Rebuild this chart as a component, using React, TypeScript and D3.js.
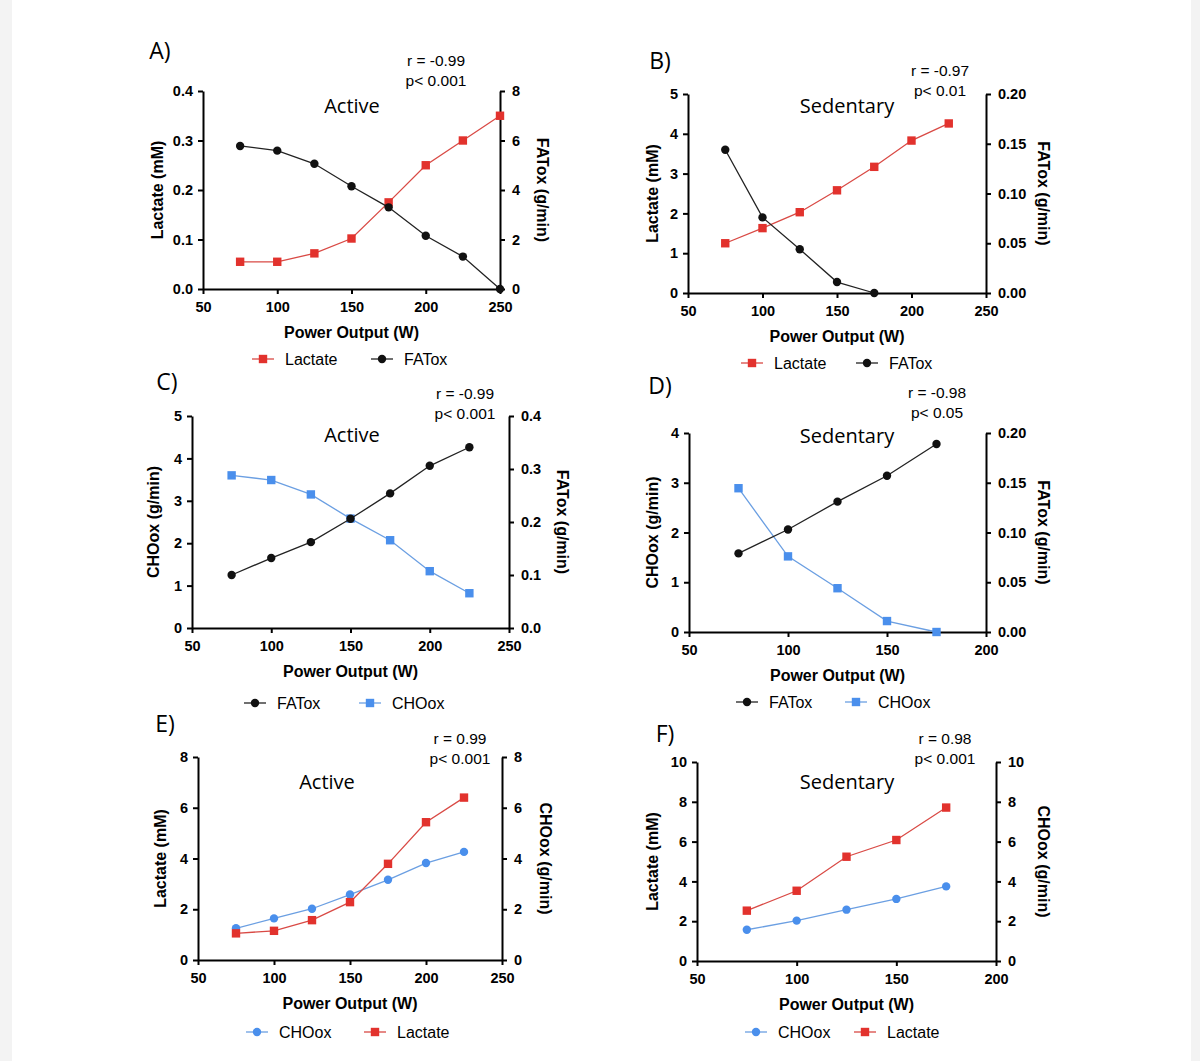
import { useRef, useEffect } from 'react';
import * as d3 from 'd3';

// power output (W) per stage
const powerActive = [75, 100, 125, 150, 175, 200, 225, 250];
const powerSed = [75, 100, 125, 150, 175, 200, 225];

// A) Active: lactate (mM) vs FATox (g/min)
const lactateA = [0.055, 0.055, 0.072, 0.102, 0.175, 0.25, 0.30, 0.35];
const fatoxA = [5.78, 5.59, 5.06, 4.15, 3.30, 2.15, 1.31, 0];
// B) Sedentary
const lactateB = [1.25, 1.63, 2.03, 2.58, 3.17, 3.83, 4.26];
const fatoxB = [0.144, 0.076, 0.044, 0.011, 0];
// C) Active: CHOox vs FATox
const fatoxC = [0.100, 0.132, 0.162, 0.206, 0.254, 0.306, 0.341];
const chooxC = [3.60, 3.49, 3.15, 2.58, 2.07, 1.34, 0.82];
// D) Sedentary
const fatoxD = [0.079, 0.103, 0.131, 0.157, 0.189];
const chooxD = [2.89, 1.52, 0.88, 0.22, 0];
// E) Active: lactate vs CHOox
const chooxE = [1.25, 1.64, 2.02, 2.58, 3.16, 3.82, 4.26];
const lactateE = [1.05, 1.15, 1.57, 2.28, 3.79, 5.43, 6.40];
// F) Sedentary
const lactateF = [2.53, 3.53, 5.24, 6.08, 7.71];
const chooxF = [1.57, 2.03, 2.58, 3.12, 3.75];

const xTicks250 = [50, 100, 150, 200, 250];
const xTicks200 = [50, 100, 150, 200];

const RED = '#e2322d';
const RED_LINE = '#d94a45';
const BLUE = '#4a8fec';
const BLUE_LINE = '#6b9fe2';

const lactate = (v) => ({ name: 'Lactate', v, color: RED, line: RED_LINE, marker: 'square' });
const fatox = (v) => ({ name: 'FATox', v, color: '#111', line: '#222', marker: 'circle' });
const choox = (v, marker) => ({ name: 'CHOox', v, color: BLUE, line: BLUE_LINE, marker });

const panels = [
  {
    letter: 'A)', group: 'Active', r: 'r = -0.99', p: 'p< 0.001',
    x: [50, 250], xTicks: xTicks250, powers: powerActive,
    left: { d: [0, 0.4], ticks: [0, 0.1, 0.2, 0.3, 0.4], fmt: '.1f', label: 'Lactate (mM)' },
    right: { d: [0, 8], ticks: [0, 2, 4, 6, 8], fmt: 'd', label: 'FATox (g/min)' },
    series: [{ ...lactate(lactateA), axis: 'left' }, { ...fatox(fatoxA), axis: 'right' }],
    legend: ['Lactate', 'FATox'],
    box: [203, 500, 91, 289], letterPos: [160, 50], titlePos: [352, 105], rPos: [436, 60],
    lx: 157, rx: 542, legendY: 359, legendX: [263, 382],
  },
  {
    letter: 'B)', group: 'Sedentary', r: 'r = -0.97', p: 'p< 0.01',
    x: [50, 250], xTicks: xTicks250, powers: powerSed,
    left: { d: [0, 5], ticks: [0, 1, 2, 3, 4, 5], fmt: 'd', label: 'Lactate (mM)' },
    right: { d: [0, 0.2], ticks: [0, 0.05, 0.1, 0.15, 0.2], fmt: '.2f', label: 'FATox (g/min)' },
    series: [{ ...lactate(lactateB), axis: 'left' }, { ...fatox(fatoxB), axis: 'right' }],
    legend: ['Lactate', 'FATox'],
    box: [688, 986, 94, 293], letterPos: [660, 60], titlePos: [847, 105], rPos: [940, 70],
    lx: 652, rx: 1043, legendY: 363, legendX: [752, 867],
  },
  {
    letter: 'C)', group: 'Active', r: 'r = -0.99', p: 'p< 0.001',
    x: [50, 250], xTicks: xTicks250, powers: powerSed,
    left: { d: [0, 5], ticks: [0, 1, 2, 3, 4, 5], fmt: 'd', label: 'CHOox (g/min)' },
    right: { d: [0, 0.4], ticks: [0, 0.1, 0.2, 0.3, 0.4], fmt: '.1f', label: 'FATox (g/min)' },
    series: [{ ...choox(chooxC, 'square'), axis: 'left' }, { ...fatox(fatoxC), axis: 'right' }],
    legend: ['FATox', 'CHOox'],
    box: [192, 509, 416, 628], letterPos: [167, 381], titlePos: [352, 434], rPos: [465, 393],
    lx: 153, rx: 562, legendY: 703, legendX: [255, 370],
  },
  {
    letter: 'D)', group: 'Sedentary', r: 'r = -0.98', p: 'p< 0.05',
    x: [50, 200], xTicks: xTicks200, powers: powerSed,
    left: { d: [0, 4], ticks: [0, 1, 2, 3, 4], fmt: 'd', label: 'CHOox (g/min)' },
    right: { d: [0, 0.2], ticks: [0, 0.05, 0.1, 0.15, 0.2], fmt: '.2f', label: 'FATox (g/min)' },
    series: [{ ...choox(chooxD, 'square'), axis: 'left' }, { ...fatox(fatoxD), axis: 'right' }],
    legend: ['FATox', 'CHOox'],
    box: [689, 986, 433, 632], letterPos: [660, 385], titlePos: [847, 435], rPos: [937, 392],
    lx: 652, rx: 1043, legendY: 702, legendX: [747, 856],
  },
  {
    letter: 'E)', group: 'Active', r: 'r = 0.99', p: 'p< 0.001',
    x: [50, 250], xTicks: xTicks250, powers: powerSed,
    left: { d: [0, 8], ticks: [0, 2, 4, 6, 8], fmt: 'd', label: 'Lactate (mM)' },
    right: { d: [0, 8], ticks: [0, 2, 4, 6, 8], fmt: 'd', label: 'CHOox (g/min)' },
    series: [{ ...choox(chooxE, 'circle'), axis: 'right' }, { ...lactate(lactateE), axis: 'left' }],
    legend: ['CHOox', 'Lactate'],
    box: [198, 502, 757, 960], letterPos: [165, 723], titlePos: [327, 781], rPos: [460, 738],
    lx: 160, rx: 545, legendY: 1032, legendX: [257, 375],
  },
  {
    letter: 'F)', group: 'Sedentary', r: 'r = 0.98', p: 'p< 0.001',
    x: [50, 200], xTicks: xTicks200, powers: powerSed,
    left: { d: [0, 10], ticks: [0, 2, 4, 6, 8, 10], fmt: 'd', label: 'Lactate (mM)' },
    right: { d: [0, 10], ticks: [0, 2, 4, 6, 8, 10], fmt: 'd', label: 'CHOox (g/min)' },
    series: [{ ...choox(chooxF, 'circle'), axis: 'right' }, { ...lactate(lactateF), axis: 'left' }],
    legend: ['CHOox', 'Lactate'],
    box: [697, 996, 762, 961], letterPos: [665, 733], titlePos: [847, 781], rPos: [945, 738],
    lx: 652, rx: 1043, legendY: 1032, legendX: [756, 865],
  },
];

const SANS = '"Liberation Sans", Arial, sans-serif';
const TITLE = '"Open Sans", sans-serif';

const drawMarker = (g, marker, x, y, color) => {
  if (marker === 'square') {
    g.append('rect').attr('x', x - 4.2).attr('y', y - 4.2).attr('width', 8.4).attr('height', 8.4).attr('fill', color);
  } else {
    g.append('circle').attr('cx', x).attr('cy', y).attr('r', 4.2).attr('fill', color);
  }
};

const Figure = () => {
  const ref = useRef();

  useEffect(() => {
    const svg = d3.select(ref.current);
    svg.selectAll('*').remove();

    svg.append('rect').attr('width', 1200).attr('height', 1061).attr('fill', '#fff');
    svg.append('rect').attr('x', 0).attr('width', 12).attr('height', 1061).attr('fill', '#f3f3f3');
    svg.append('rect').attr('x', 1191).attr('width', 9).attr('height', 1061).attr('fill', '#f3f3f3');

    panels.forEach((p) => {
      const [x0, x1, yTop, yBot] = p.box;
      const g = svg.append('g');
      const x = d3.scaleLinear().domain(p.x).range([x0, x1]);
      const yL = d3.scaleLinear().domain(p.left.d).range([yBot, yTop]);
      const yR = d3.scaleLinear().domain(p.right.d).range([yBot, yTop]);

      const styleAxis = (a) => {
        a.select('.domain').attr('stroke', '#000').attr('stroke-width', 2);
        a.selectAll('.tick line').attr('stroke', '#000').attr('stroke-width', 2);
        a.selectAll('text')
          .attr('font-family', SANS).attr('font-size', 14.5).attr('font-weight', 700).attr('fill', '#000');
      };

      g.append('g').attr('transform', `translate(0,${yBot})`)
        .call(d3.axisBottom(x).tickValues(p.xTicks).tickFormat(d3.format('d')).tickSize(5).tickSizeOuter(0).tickPadding(8))
        .call(styleAxis);
      g.append('g').attr('transform', `translate(${x0},0)`)
        .call(d3.axisLeft(yL).tickValues(p.left.ticks).tickFormat(d3.format(p.left.fmt)).tickSize(5).tickSizeOuter(0).tickPadding(5))
        .call(styleAxis);
      g.append('g').attr('transform', `translate(${x1},0)`)
        .call(d3.axisRight(yR).tickValues(p.right.ticks).tickFormat(d3.format(p.right.fmt)).tickSize(5).tickSizeOuter(0).tickPadding(7))
        .call(styleAxis);

      // axis titles
      g.append('text').attr('x', (x0 + x1) / 2).attr('y', yBot + 43)
        .attr('text-anchor', 'middle').attr('dominant-baseline', 'central')
        .attr('font-family', SANS).attr('font-size', 16).attr('font-weight', 700)
        .text('Power Output (W)');
      g.append('text').attr('transform', `translate(${p.lx},${(yTop + yBot) / 2}) rotate(-90)`)
        .attr('text-anchor', 'middle').attr('dominant-baseline', 'central')
        .attr('font-family', SANS).attr('font-size', 16).attr('font-weight', 700)
        .text(p.left.label);
      g.append('text').attr('transform', `translate(${p.rx},${(yTop + yBot) / 2}) rotate(90)`)
        .attr('text-anchor', 'middle').attr('dominant-baseline', 'central')
        .attr('font-family', SANS).attr('font-size', 16).attr('font-weight', 700)
        .text(p.right.label);

      // panel letter, group title, stats
      g.append('text').attr('x', p.letterPos[0]).attr('y', p.letterPos[1])
        .attr('text-anchor', 'middle').attr('dominant-baseline', 'central')
        .attr('font-family', TITLE).attr('font-size', 23).text(p.letter);
      g.append('text').attr('x', p.titlePos[0]).attr('y', p.titlePos[1])
        .attr('text-anchor', 'middle').attr('dominant-baseline', 'central')
        .attr('font-family', TITLE).attr('font-size', 20).text(p.group);
      g.append('text').attr('x', p.rPos[0]).attr('y', p.rPos[1])
        .attr('text-anchor', 'middle').attr('dominant-baseline', 'central')
        .attr('font-family', SANS).attr('font-size', 15.5).text(p.r);
      g.append('text').attr('x', p.rPos[0]).attr('y', p.rPos[1] + 20)
        .attr('text-anchor', 'middle').attr('dominant-baseline', 'central')
        .attr('font-family', SANS).attr('font-size', 15.5).text(p.p);

      // series
      p.series.forEach((s) => {
        const y = s.axis === 'left' ? yL : yR;
        const pts = s.v.map((v, i) => [x(p.powers[i]), y(v)]);
        g.append('path').attr('d', d3.line()(pts))
          .attr('fill', 'none').attr('stroke', s.line).attr('stroke-width', 1.3);
        pts.forEach(([px, py]) => drawMarker(g, s.marker, px, py, s.color));
      });

      // legend
      p.legend.forEach((name, i) => {
        const s = p.series.find((d) => d.name === name);
        const lx = p.legendX[i];
        g.append('line').attr('x1', lx - 11).attr('x2', lx + 11)
          .attr('y1', p.legendY).attr('y2', p.legendY)
          .attr('stroke', s.line).attr('stroke-width', 1.3);
        drawMarker(g, s.marker, lx, p.legendY, s.color);
        g.append('text').attr('x', lx + 22).attr('y', p.legendY)
          .attr('dominant-baseline', 'central')
          .attr('font-family', SANS).attr('font-size', 16).text(name);
      });
    });
  }, []);

  return <svg ref={ref} width={1200} height={1061} style={{ position: 'absolute', left: 0, top: 0 }}></svg>;
};

export default function App() {
  return <Figure />;
}
